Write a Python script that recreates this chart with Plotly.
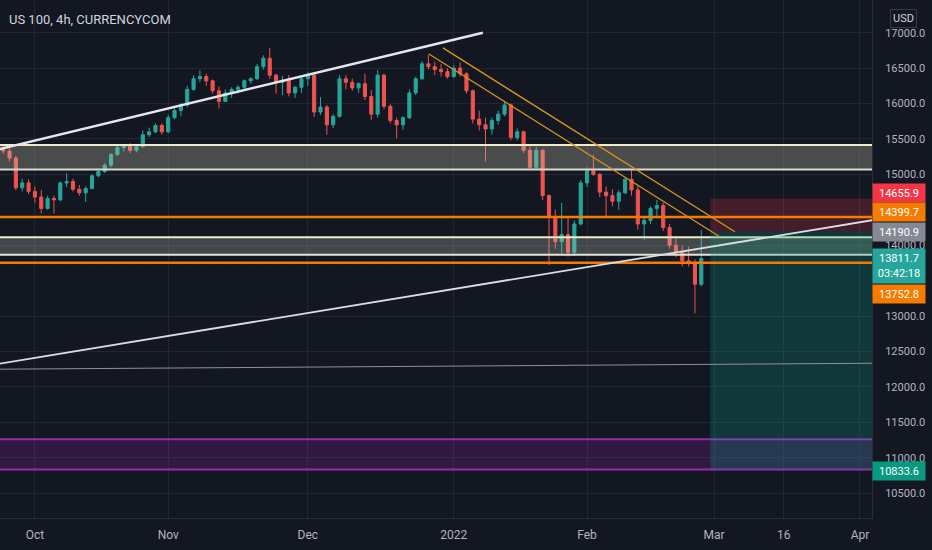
import pandas as pd
import plotly.graph_objects as go

# daily bars (weekdays only)
dates = pd.bdate_range("2021-09-23", "2022-02-25")
opens = [15330, 15360, 15330, 15230, 14810, 14880,
         14760, 14680, 14520, 14660, 14640, 14880, 14900, 14790, 14740, 14800,
         14980, 15040, 15130, 15280, 15380, 15400, 15340, 15390, 15560, 15600,
         15690, 15600, 15800, 15900, 15980, 16200, 16350, 16380, 16320, 16180,
         16030, 16150, 16200, 16230, 16320, 16350, 16520, 16640, 16400, 16300,
         16330, 16150, 16230, 16350, 16400, 15880, 15950, 15700, 15820, 16350,
         16300, 16220, 16280, 16100, 15850, 16400, 15960, 15760, 15700, 15800,
         16150, 16350, 16560, 16520, 16480, 16450, 16380, 16500, 16420, 16180,
         15780, 15700, 15640, 15760, 15850, 15980, 15520, 15600, 15340, 15100,
         15340, 14700, 14400, 14050, 14150, 13900, 14300, 14880, 15050, 15000,
         14750, 14700, 14620, 14740, 14930, 14780, 14300, 14350, 14520, 14560,
         14250, 14000, 13900, 13780, 13760, 13450]
highs = [15400, 15410, 15420, 15260, 14940, 14930,
         14830, 14780, 14700, 14700, 14900, 15020, 14940, 14850, 14830, 15000,
         15060, 15160, 15300, 15420, 15430, 15440, 15420, 15620, 15660, 15720,
         15720, 15840, 15940, 16010, 16250, 16400, 16470, 16420, 16340, 16240,
         16200, 16230, 16260, 16340, 16370, 16560, 16680, 16780, 16420, 16390,
         16400, 16250, 16400, 16440, 16420, 16090, 15980, 15850, 16400, 16400,
         16350, 16300, 16420, 16190, 16470, 16420, 15990, 15800, 15820, 16200,
         16380, 16600, 16690, 16590, 16560, 16500, 16540, 16580, 16440, 16200,
         15900, 15800, 15800, 15900, 16030, 16000, 15650, 15620, 15400, 15390,
         15360, 14720, 14500, 14600, 14400, 14350, 14920, 15100, 15280, 15020,
         14830, 14790, 14780, 14950, 15070, 14850, 14400, 14550, 14640, 14600,
         14300, 14100, 14000, 13980, 13800, 14215]
lows = [15280, 15290, 15180, 14780, 14760, 14720,
        14600, 14450, 14500, 14450, 14620, 14820, 14760, 14700, 14610, 14790,
        14960, 15020, 15100, 15260, 15320, 15300, 15310, 15380, 15530, 15580,
        15560, 15580, 15780, 15820, 15950, 16180, 16300, 16250, 16140, 15930,
        16020, 16080, 16140, 16200, 16280, 16330, 16480, 16350, 16140, 16120,
        16100, 16080, 16150, 16250, 15810, 15840, 15560, 15650, 15800, 16200,
        16180, 16150, 16050, 15770, 15800, 15920, 15720, 15510, 15630, 15780,
        16120, 16330, 16480, 16400, 16380, 16350, 16360, 16380, 16140, 15720,
        15620, 15180, 15560, 15700, 15820, 15480, 15480, 15300, 15060, 15080,
        14640, 13720, 13950, 13880, 13840, 13850, 14280, 14820, 14980, 14680,
        14400, 14550, 14500, 14720, 14700, 14220, 14080, 14300, 14380, 14200,
        13950, 13830, 13700, 13700, 13040, 13420]
closes = [15360, 15330, 15230, 14810, 14880, 14760,
          14680, 14520, 14660, 14640, 14880, 14900, 14790, 14740, 14800, 14980,
          15040, 15130, 15280, 15380, 15400, 15340, 15390, 15560, 15600, 15690,
          15600, 15800, 15900, 15980, 16200, 16350, 16380, 16320, 16180, 16030,
          16150, 16200, 16230, 16320, 16350, 16520, 16640, 16400, 16300, 16330,
          16150, 16230, 16350, 16400, 15880, 15950, 15700, 15820, 16350, 16300,
          16220, 16280, 16100, 15850, 16400, 15960, 15760, 15700, 15800, 16150,
          16350, 16560, 16520, 16480, 16450, 16380, 16500, 16420, 16180, 15780,
          15700, 15640, 15760, 15850, 15980, 15520, 15600, 15340, 15100, 15340,
          14700, 14400, 14050, 14150, 13900, 14300, 14880, 15050, 15000, 14750,
          14700, 14620, 14740, 14930, 14780, 14300, 14350, 14520, 14560, 14250,
          14000, 13900, 13780, 13760, 13450, 13812]

# drawn zones / levels
upper_zone = [15070, 15416]
lower_zone = [13866, 14112]
purple_zone = [10834, 11263]
orange_levels = [14399.7, 13752.8]
entry_price = 14190.9
stop_price = 14655.9
target_price = 10833.6
last_price = 13811.7
countdown = "03:42:18"
position_start = "2022-02-28 10:00"

# trend lines: (date, price) pairs
top_trend = [("2021-09-22", 15326), ("2022-01-07 14:00", 17000)]
support_trend = [("2021-09-23", 12323), ("2022-04-05", 14354)]
flat_line = [("2021-09-22", 12250), ("2022-04-05", 12335)]
down_a = [("2021-12-28 02:00", 16700), ("2022-03-01 22:00", 14119)]
down_b = [("2021-12-30 07:00", 16785), ("2022-03-04 07:00", 14190)]

tick_dates = ["2021-10-01", "2021-11-01", "2021-12-01", "2022-01-03",
              "2022-02-01", "2022-03-01", "2022-03-16", "2022-04-01"]
tick_text = ["Oct", "Nov", "Dec", "2022", "Feb", "Mar", "16", "Apr"]
# 14500 and 13500 sit behind the price labels, so they are not shown
price_ticks = [10500, 11000, 11500, 12000, 12500, 13000, 14000,
               15000, 15500, 16000, 16500, 17000]

BG = "#131722"
GRID = "#222632"
ORANGE = "#f57c00"

fig = go.Figure()
fig.add_trace(go.Candlestick(
    x=dates, open=opens, high=highs, low=lows, close=closes,
    increasing=dict(line=dict(color="#26a69a", width=1), fillcolor="#26a69a"),
    decreasing=dict(line=dict(color="#ef5350", width=1), fillcolor="#ef5350"),
    whiskerwidth=0, hoverinfo="skip",
))

shapes = []


def hzone(lo, hi, fill, top_col, bot_col, w):
    shapes.append(dict(type="rect", xref="paper", x0=0, x1=1, yref="y", y0=lo, y1=hi,
                       fillcolor=fill, line_width=0))
    shapes.append(dict(type="line", xref="paper", x0=0, x1=1, yref="y", y0=hi, y1=hi,
                       line=dict(color=top_col, width=w)))
    shapes.append(dict(type="line", xref="paper", x0=0, x1=1, yref="y", y0=lo, y1=lo,
                       line=dict(color=bot_col, width=w)))


def tline(pts, color, width):
    (d0, p0), (d1, p1) = pts
    shapes.append(dict(type="line", xref="x", yref="y", x0=d0, y0=p0, x1=d1, y1=p1,
                       line=dict(color=color, width=width)))


hzone(upper_zone[0], upper_zone[1], "rgba(200,200,170,0.30)", "#efedc9", "#d9d9cf", 2)
hzone(lower_zone[0], lower_zone[1], "rgba(190,200,175,0.28)", "#efedc9", "#e3e3d8", 2)
hzone(purple_zone[0], purple_zone[1], "rgba(156,39,176,0.22)", "#9c27b0", "#9c27b0", 2)

# short position tool
shapes.append(dict(type="rect", xref="x", x0=position_start, x1="2022-04-08", yref="y",
                   y0=entry_price, y1=stop_price, fillcolor="rgba(242,54,69,0.22)", line_width=0))
shapes.append(dict(type="rect", xref="x", x0=position_start, x1="2022-04-08", yref="y",
                   y0=target_price, y1=entry_price, fillcolor="rgba(8,153,129,0.25)", line_width=0))

for lvl in orange_levels:
    shapes.append(dict(type="line", xref="paper", x0=0, x1=1, yref="y", y0=lvl, y1=lvl,
                       line=dict(color=ORANGE, width=2.5)))

tline(top_trend, "#e6e6ee", 2.5)
tline(support_trend, "#dcdce4", 1.8)
tline(flat_line, "#8e919a", 1)
tline(down_a, "#d8921e", 1.3)
tline(down_b, "#d8921e", 1.3)

fig.update_layout(shapes=shapes)

annotations = [
    dict(text="US 100, 4h, CURRENCYCOM", xref="paper", yref="paper", x=0.008, y=1 - 19 / 518,
         xanchor="left", yanchor="middle", showarrow=False,
         font=dict(family="Roboto", size=13, color="#d1d4dc")),
    dict(text="USD", xref="paper", yref="paper", x=903 / 872, y=1 - 18 / 518,
         xanchor="center", yanchor="middle", showarrow=False, bordercolor="#363a45",
         borderwidth=1, borderpad=2, font=dict(family="Roboto", size=11, color="#d1d4dc")),
]

# price labels on the right scale: (price, text, colour, yshift, lines)
price_labels = [
    (stop_price, f"{stop_price:.1f}", "#f23645", 6, 1),
    (orange_levels[0], f"{orange_levels[0]:.1f}", ORANGE, 5, 1),
    (entry_price, f"{entry_price:.1f}", "#868993", 0, 1),
    (last_price, f"{last_price:.1f}<br>{countdown}", "#26a69a", -7.5, 2),
    (orange_levels[1], f"{orange_levels[1]:.1f}", ORANGE, -31, 1),
    (target_price, f"{target_price:.1f}", "#089981", -1, 1),
]
for price, txt, col, ys, nl in price_labels:
    annotations.append(dict(
        text=txt, xref="paper", yref="y", x=1, y=price, xanchor="left", yanchor="middle",
        yshift=ys, showarrow=False, bgcolor=col, width=50, height=16 * nl, borderpad=1,
        align="center", font=dict(family="Roboto", size=11, color="#ffffff"),
    ))

fig.update_layout(
    annotations=annotations,
    width=932, height=550,
    margin=dict(l=0, r=60, t=0, b=32),
    paper_bgcolor=BG, plot_bgcolor=BG,
    showlegend=False,
    font=dict(family="Roboto", size=11, color="#b2b5be"),
    xaxis=dict(
        type="date", range=["2021-09-23 12:00", "2022-04-04 21:30"],
        rangebreaks=[dict(bounds=["sat", "mon"])],
        rangeslider=dict(visible=False),
        tickvals=tick_dates, ticktext=tick_text, tickfont=dict(size=12),
        showgrid=True, gridcolor=GRID, gridwidth=1,
        showline=True, linecolor="#2a2e39", linewidth=1, ticks="",
        zeroline=False, ticklabelstandoff=6,
    ),
    yaxis=dict(
        side="right", range=[10151, 17461], tickvals=price_ticks, tickformat=".1f",
        showgrid=True, gridcolor=GRID, gridwidth=1,
        showline=True, linecolor="#2a2e39", linewidth=1, ticks="",
        zeroline=False, ticklabelstandoff=10,
    ),
)

fig.write_html("out.html", config={"displayModeBar": False},
               post_script="document.body.style.margin='0';")
